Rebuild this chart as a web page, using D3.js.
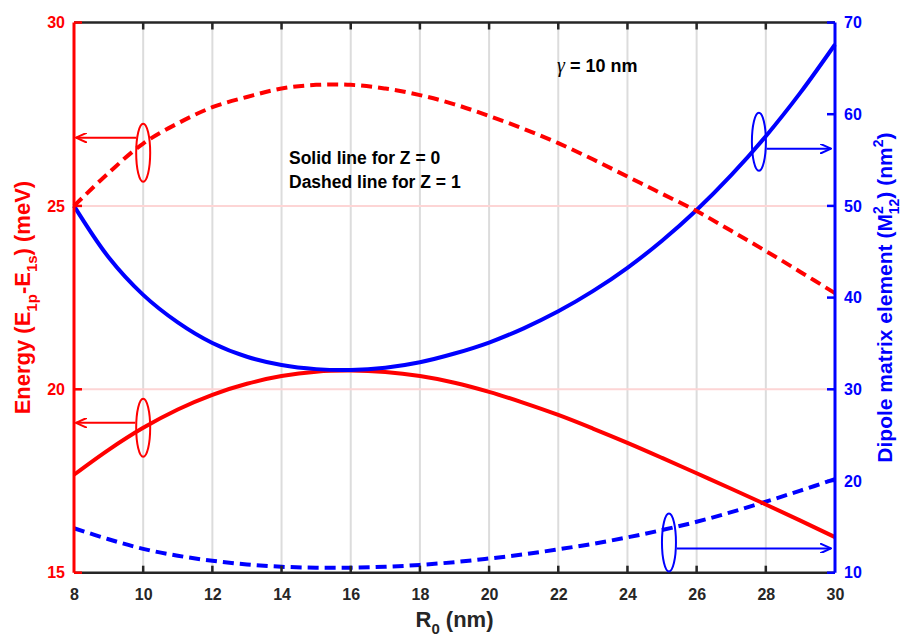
<!DOCTYPE html>
<html>
<head>
<meta charset="utf-8">
<script src="https://cdn.jsdelivr.net/npm/d3@7"></script>
<style>
  body { margin: 0; background: #fff; }
  text { font-family: "Liberation Sans", Arial, sans-serif; }
</style>
</head>
<body>
<svg id="chart"></svg>
<script>
// radius R0 (nm)
const R0 = [8, 9, 10, 11, 12, 13, 14, 15, 16, 17, 18, 19, 20, 21, 22, 23, 24, 25, 26, 27, 28, 29, 30];

// energy E1p-E1s (meV), left axis
const energyZ0 = [17.67, 18.35, 18.95, 19.45, 19.85, 20.15, 20.36, 20.48, 20.51, 20.47, 20.36, 20.18, 19.93,
  19.63, 19.3, 18.93, 18.54, 18.13, 17.71, 17.29, 16.86, 16.42, 15.97];
const energyZ1 = [25.0, 25.9, 26.7, 27.25, 27.69, 27.97, 28.2, 28.3, 28.3, 28.2, 28.02, 27.77, 27.45,
  27.1, 26.71, 26.27, 25.8, 25.33, 24.86, 24.32, 23.77, 23.2, 22.62];

// dipole matrix element M12^2 (nm^2), right axis
const dipoleZ0 = [50.0, 44.4, 40.3, 37.3, 35.05, 33.55, 32.65, 32.2, 32.1, 32.35, 32.95, 33.9, 35.1,
  36.65, 38.5, 40.7, 43.25, 46.2, 49.55, 53.35, 57.6, 62.35, 67.6];
const dipoleZ1 = [14.85, 13.65, 12.6, 11.85, 11.3, 10.9, 10.65, 10.55, 10.55, 10.65, 10.85, 11.15, 11.55,
  12.0, 12.55, 13.15, 13.85, 14.65, 15.55, 16.6, 17.75, 18.95, 20.2];

const xTicks = [8, 10, 12, 14, 16, 18, 20, 22, 24, 26, 28, 30];
const leftTicks = [15, 20, 25, 30];
const rightTicks = [10, 20, 30, 40, 50, 60, 70];

const width = 902, height = 639;
const margin = { left: 74, right: 67, top: 22.5, bottom: 66.3 };
const innerW = width - margin.left - margin.right;
const innerH = height - margin.top - margin.bottom;

const RED = "#ff0000", BLUE = "#0000ff", DARK = "#262626";

const svg = d3.select("#chart").attr("width", width).attr("height", height);
const g = svg.append("g").attr("transform", `translate(${margin.left},${margin.top})`);

const x = d3.scaleLinear().domain([8, 30]).range([0, innerW]);
const yL = d3.scaleLinear().domain([15, 30]).range([innerH, 0]);
const yR = d3.scaleLinear().domain([10, 70]).range([innerH, 0]);

// grid
g.append("g").selectAll("line")
  .data(xTicks.slice(1, -1))
  .join("line")
  .attr("x1", d => x(d)).attr("x2", d => x(d))
  .attr("y1", 0).attr("y2", innerH)
  .attr("stroke", "#dcdcdc").attr("stroke-width", 2);
g.append("g").selectAll("line")
  .data([20, 25])
  .join("line")
  .attr("x1", 0).attr("x2", innerW)
  .attr("y1", d => yL(d)).attr("y2", d => yL(d))
  .attr("stroke", "#fdd5d5").attr("stroke-width", 2);

// curves
const lineL = d3.line().x((d, i) => x(R0[i])).y(d => yL(d)).curve(d3.curveCatmullRom);
const lineR = d3.line().x((d, i) => x(R0[i])).y(d => yR(d)).curve(d3.curveCatmullRom);

const series = [
  { data: dipoleZ1, line: lineR, color: BLUE, dash: "11,6" },
  { data: energyZ0, line: lineL, color: RED, dash: null },
  { data: dipoleZ0, line: lineR, color: BLUE, dash: null },
  { data: energyZ1, line: lineL, color: RED, dash: "11,6" },
];
g.append("g").selectAll("path")
  .data(series)
  .join("path")
  .attr("d", d => d.line(d.data))
  .attr("fill", "none")
  .attr("stroke", d => d.color)
  .attr("stroke-width", 4)
  .attr("stroke-dasharray", d => d.dash);

// frame: top & bottom axes
const xAxisB = d3.axisBottom(x).tickValues(xTicks).tickSize(0).tickPadding(16);
const gB = g.append("g").attr("transform", `translate(0,${innerH})`).call(xAxisB);
gB.select(".domain").remove();
gB.selectAll("text").attr("font-size", 16).attr("font-weight", "bold").attr("fill", DARK);

[0, innerH].forEach(yy => {
  g.append("line").attr("x1", 0).attr("x2", innerW).attr("y1", yy).attr("y2", yy)
    .attr("stroke", DARK).attr("stroke-width", 2.5);
  g.append("g").selectAll("line")
    .data(xTicks.slice(1, -1))
    .join("line")
    .attr("x1", d => x(d)).attr("x2", d => x(d))
    .attr("y1", yy).attr("y2", yy === 0 ? 7 : innerH - 7)
    .attr("stroke", DARK).attr("stroke-width", 2.5);
});

// left axis
const gL = g.append("g").call(d3.axisLeft(yL).tickValues(leftTicks).tickSize(0).tickPadding(9));
gL.select(".domain").remove();
gL.selectAll("text").attr("font-size", 16).attr("font-weight", "bold").attr("fill", RED);
g.append("line").attr("x1", 0).attr("x2", 0).attr("y1", 0).attr("y2", innerH)
  .attr("stroke", RED).attr("stroke-width", 3);
g.append("g").selectAll("line")
  .data(leftTicks)
  .join("line")
  .attr("x1", 0).attr("x2", 8)
  .attr("y1", d => yL(d)).attr("y2", d => yL(d))
  .attr("stroke", RED).attr("stroke-width", 2.5);

// right axis
const gR = g.append("g").attr("transform", `translate(${innerW},0)`)
  .call(d3.axisRight(yR).tickValues(rightTicks).tickSize(0).tickPadding(9));
gR.select(".domain").remove();
gR.selectAll("text").attr("font-size", 16).attr("font-weight", "bold").attr("fill", BLUE);
g.append("line").attr("x1", innerW).attr("x2", innerW).attr("y1", 0).attr("y2", innerH)
  .attr("stroke", BLUE).attr("stroke-width", 3);
g.append("g").selectAll("line")
  .data(rightTicks)
  .join("line")
  .attr("x1", innerW).attr("x2", innerW - 8)
  .attr("y1", d => yR(d)).attr("y2", d => yR(d))
  .attr("stroke", BLUE).attr("stroke-width", 2.5);

// axis titles
const xt = svg.append("text")
  .attr("x", margin.left + innerW / 2).attr("y", 627)
  .attr("text-anchor", "middle").attr("font-size", 22).attr("font-weight", "bold").attr("fill", DARK);
xt.append("tspan").text("R");
xt.append("tspan").attr("font-size", 15).attr("dy", 7).text("0");
xt.append("tspan").attr("dy", -7).text(" (nm)");

const lt = svg.append("text")
  .attr("transform", `translate(30,${margin.top + innerH / 2}) rotate(-90)`)
  .attr("text-anchor", "middle").attr("font-size", 22).attr("font-weight", "bold").attr("fill", RED);
lt.append("tspan").text("Energy (E");
lt.append("tspan").attr("font-size", 15).attr("dy", 7).text("1p");
lt.append("tspan").attr("dy", -7).text("-E");
lt.append("tspan").attr("font-size", 15).attr("dy", 7).text("1s");
lt.append("tspan").attr("dy", -7).text(") (meV)");

const rt = svg.append("text")
  .attr("transform", `translate(892,${margin.top + innerH / 2}) rotate(-90)`)
  .attr("text-anchor", "middle").attr("font-size", 21).attr("font-weight", "bold").attr("fill", BLUE);
rt.append("tspan").text("Dipole matrix element (M");
rt.append("tspan").attr("font-size", 14).attr("dy", -9).text("2");
rt.append("tspan").attr("font-size", 14).attr("dx", -8).attr("dy", 16).text("12");
rt.append("tspan").attr("dy", -7).text(") (nm");
rt.append("tspan").attr("font-size", 14).attr("dy", -9).text("2");
rt.append("tspan").attr("dy", 9).text(")");

// annotations
const gamma = svg.append("text").attr("x", 557).attr("y", 72)
  .attr("font-size", 18).attr("font-weight", "bold").attr("fill", "#000");
gamma.append("tspan").attr("font-family", "Liberation Serif, Times New Roman, serif")
  .attr("font-weight", "normal").attr("font-style", "italic").attr("font-size", 20).text("γ");
gamma.append("tspan").text(" = 10 nm");

svg.append("text").attr("x", 289).attr("y", 164)
  .attr("font-size", 17.5).attr("font-weight", "bold").attr("fill", "#000")
  .text("Solid line for Z = 0");
svg.append("text").attr("x", 289).attr("y", 188)
  .attr("font-size", 17.5).attr("font-weight", "bold").attr("fill", "#000")
  .text("Dashed line for Z = 1");

// ellipses with arrows pointing to the axis each curve belongs to
const callouts = [
  { r: 10, v: 26.45, scale: yL, color: RED, dir: -1, off: -15 },
  { r: 10, v: 18.95, scale: yL, color: RED, dir: -1, off: -5 },
  { r: 27.8, v: 57.0, scale: yR, color: BLUE, dir: 1, off: 7 },
  { r: 25.2, v: 13.3, scale: yR, color: BLUE, dir: 1, off: 6 },
];
svg.append("defs").selectAll("marker")
  .data([RED, BLUE])
  .join("marker")
  .attr("id", (d, i) => "arr" + i)
  .attr("viewBox", "0 0 12 10").attr("refX", 11).attr("refY", 5)
  .attr("markerWidth", 12).attr("markerHeight", 10)
  .attr("markerUnits", "userSpaceOnUse").attr("orient", "auto")
  .append("path").attr("d", "M0,0 L11,5 L0,10")
  .attr("fill", "none").attr("stroke", d => d).attr("stroke-width", 2);

callouts.forEach(c => {
  const cx = x(c.r), cy = c.scale(c.v);
  g.append("ellipse").attr("cx", cx).attr("cy", cy).attr("rx", 7).attr("ry", 29)
    .attr("fill", "none").attr("stroke", c.color).attr("stroke-width", 2);
  const ay = cy + c.off;
  const edge = 7 * Math.sqrt(1 - (c.off / 29) ** 2);
  g.append("line")
    .attr("x1", cx + c.dir * (edge + 1)).attr("x2", c.dir < 0 ? 2 : innerW - 4)
    .attr("y1", ay).attr("y2", ay)
    .attr("stroke", c.color).attr("stroke-width", 2)
    .attr("marker-end", `url(#arr${c.color === RED ? 0 : 1})`);
});
</script>
</body>
</html>
